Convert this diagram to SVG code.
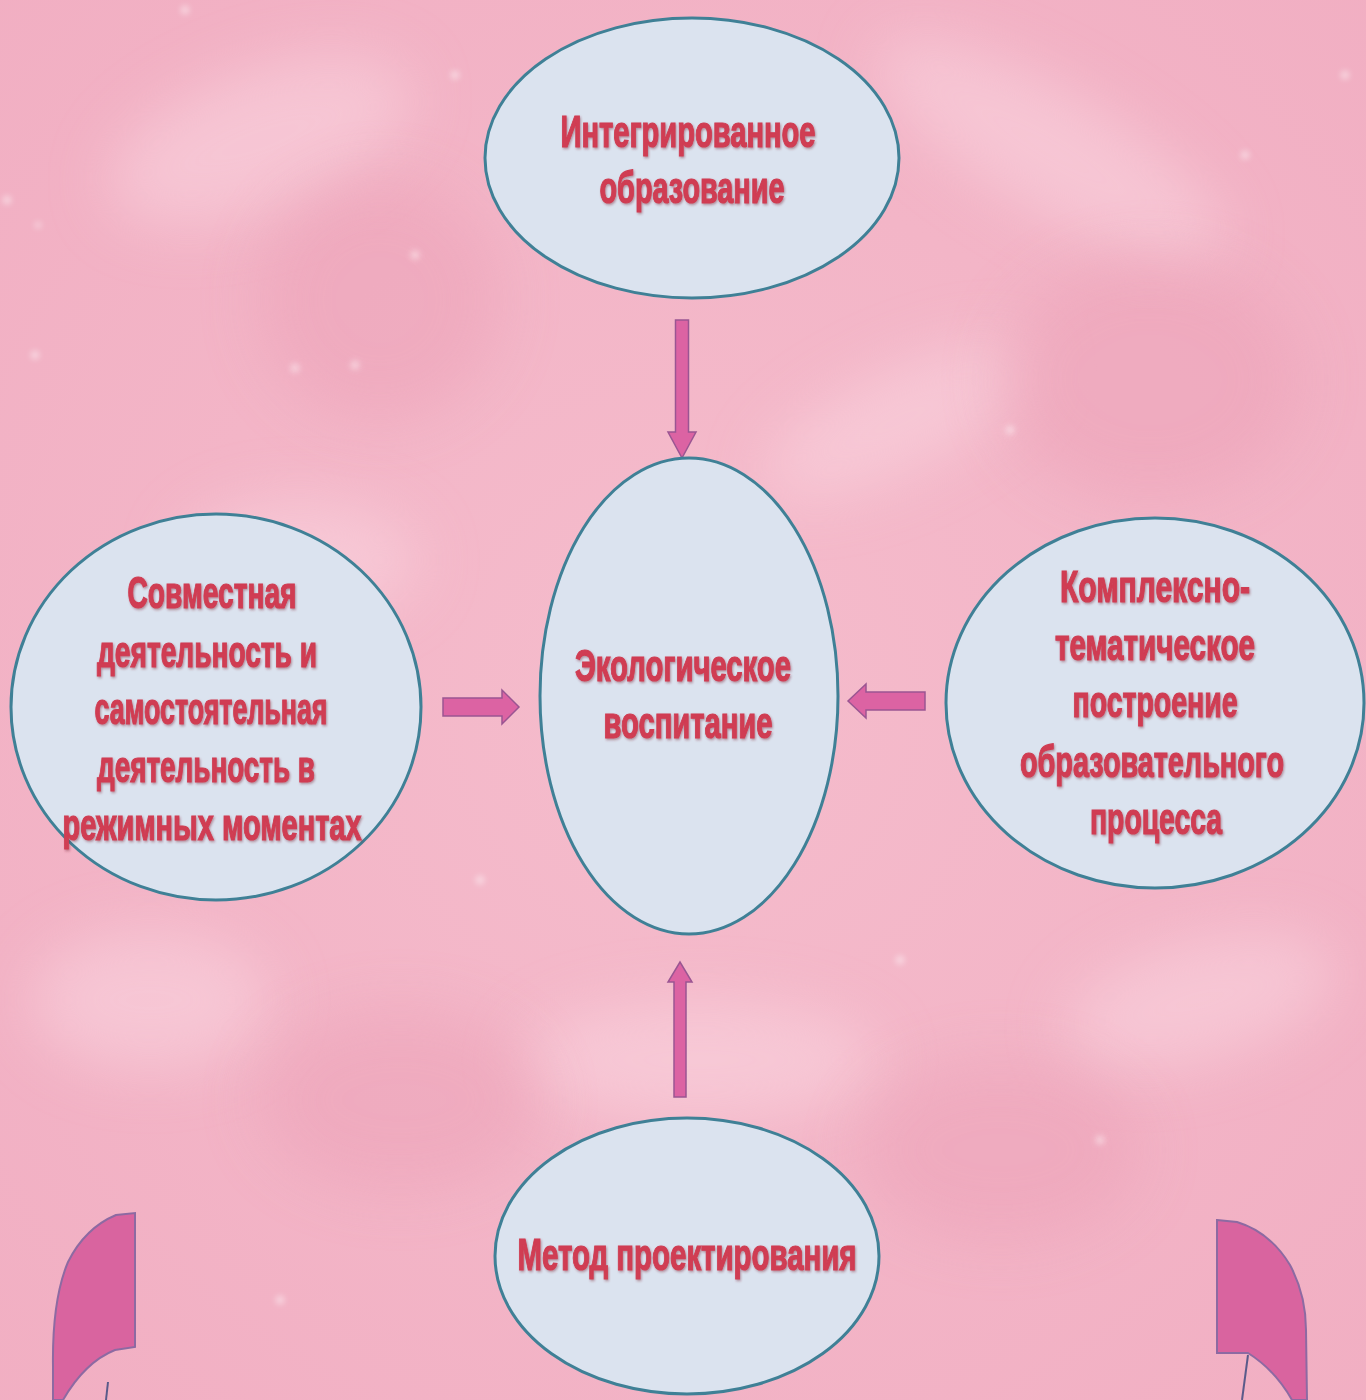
<svg xmlns="http://www.w3.org/2000/svg" width="1366" height="1400" viewBox="0 0 1366 1400">
  <defs>
    <radialGradient id="bg" cx="0.5" cy="0.5" r="0.75">
      <stop offset="0" stop-color="#f5bccc"/>
      <stop offset="1" stop-color="#f1aec2"/>
    </radialGradient>
    <filter id="blur" x="-50%" y="-50%" width="200%" height="200%">
      <feGaussianBlur stdDeviation="30"/>
    </filter>
    <filter id="soft" x="-50%" y="-50%" width="200%" height="200%">
      <feGaussianBlur stdDeviation="3"/>
    </filter>
    <filter id="tshadow" x="-10%" y="-30%" width="120%" height="160%">
      <feDropShadow dx="1" dy="1.5" stdDeviation="1.2" flood-color="#7a2030" flood-opacity="0.45"/>
    </filter>
  </defs>
  <style>
    .node ellipse { fill: #dbe3ef; stroke: #3f8096; stroke-width: 3; }
    .label { font-family: "Liberation Sans", Arial, sans-serif; font-weight: bold; font-size: 44px; fill: #d03c52; stroke: #d03c52; stroke-width: 1.2; text-anchor: middle; filter: url(#tshadow); }
    .arrow { fill: #dc63a3; stroke: #9a5592; stroke-width: 1.5; stroke-linejoin: miter; }
    .corner { fill: #d9649f; stroke: #8d6aa2; stroke-width: 2; }
    .tip { fill: none; stroke: #5a5a8a; stroke-width: 2; }
  </style>

  <!-- background -->
  <rect x="0" y="0" width="1366" height="1400" fill="url(#bg)"/>
  <g filter="url(#blur)" fill="#fbd9e3" opacity="0.5">
    <ellipse cx="260" cy="140" rx="160" ry="70" transform="rotate(-20 260 140)"/>
    <ellipse cx="300" cy="560" rx="120" ry="60"/>
    <ellipse cx="1050" cy="150" rx="200" ry="60" transform="rotate(30 1050 150)"/>
    <ellipse cx="700" cy="1060" rx="180" ry="60"/>
    <ellipse cx="150" cy="1000" rx="120" ry="70"/>
    <ellipse cx="1200" cy="1000" rx="140" ry="60" transform="rotate(-15 1200 1000)"/>
    <ellipse cx="900" cy="420" rx="150" ry="50" transform="rotate(-25 900 420)"/>
  </g>
  <g filter="url(#blur)" fill="#eb9fb5" opacity="0.45">
    <ellipse cx="380" cy="300" rx="120" ry="120"/>
    <ellipse cx="1150" cy="380" rx="150" ry="120"/>
    <ellipse cx="400" cy="1100" rx="140" ry="90"/>
    <ellipse cx="1000" cy="1150" rx="140" ry="90"/>
  </g>
  <g filter="url(#soft)" fill="#ffffff" opacity="0.55">
    <circle cx="185" cy="10" r="4"/>
    <circle cx="455" cy="75" r="4"/>
    <circle cx="415" cy="255" r="4"/>
    <circle cx="7" cy="200" r="4"/>
    <circle cx="38" cy="225" r="3"/>
    <circle cx="35" cy="355" r="4"/>
    <circle cx="295" cy="368" r="4"/>
    <circle cx="355" cy="365" r="4"/>
    <circle cx="1245" cy="155" r="4"/>
    <circle cx="1345" cy="75" r="4"/>
    <circle cx="1010" cy="430" r="4"/>
    <circle cx="480" cy="880" r="4"/>
    <circle cx="1100" cy="1140" r="4"/>
    <circle cx="280" cy="1300" r="4"/>
    <circle cx="900" cy="960" r="4"/>
  </g>

  <!-- connectors -->
  <g id="connectors">
    <path id="arrow-top" class="arrow" d="M 675.5 320 L 688.5 320 L 688.5 432 L 696 432 L 682 458 L 668 432 L 675.5 432 Z"/>
    <path id="arrow-left" class="arrow" d="M 443 698 L 502 698 L 502 690 L 519 707 L 502 724 L 502 716 L 443 716 Z"/>
    <path id="arrow-right" class="arrow" d="M 925 692 L 866 692 L 866 684 L 848 701 L 866 718 L 866 710 L 925 710 Z"/>
    <path id="arrow-bottom" class="arrow" d="M 674 1097 L 686 1097 L 686 982 L 692 982 L 680 962 L 668 982 L 674 982 Z"/>
  </g>

  <!-- nodes -->
  <g id="node-top" class="node">
    <ellipse cx="692" cy="158" rx="207" ry="140"/>
    <text class="label" x="688" y="147" textLength="255" lengthAdjust="spacingAndGlyphs">Интегрированное</text>
    <text class="label" x="692" y="203" textLength="185" lengthAdjust="spacingAndGlyphs">образование</text>
  </g>

  <g id="node-center" class="node">
    <ellipse cx="689" cy="696" rx="149" ry="238"/>
    <text class="label" x="683" y="681" textLength="216" lengthAdjust="spacingAndGlyphs">Экологическое</text>
    <text class="label" x="688" y="738" textLength="169" lengthAdjust="spacingAndGlyphs">воспитание</text>
  </g>

  <g id="node-left" class="node">
    <ellipse cx="216" cy="707" rx="205" ry="193"/>
    <text class="label" x="212" y="608" textLength="169" lengthAdjust="spacingAndGlyphs">Совместная</text>
    <text class="label" x="207" y="667" textLength="220" lengthAdjust="spacingAndGlyphs">деятельность и</text>
    <text class="label" x="211" y="724" textLength="233" lengthAdjust="spacingAndGlyphs">самостоятельная</text>
    <text class="label" x="206" y="782" textLength="218" lengthAdjust="spacingAndGlyphs">деятельность в</text>
    <text class="label" x="212" y="840" textLength="299" lengthAdjust="spacingAndGlyphs">режимных моментах</text>
  </g>

  <g id="node-right" class="node">
    <ellipse cx="1155" cy="703" rx="209" ry="185"/>
    <text class="label" x="1155" y="602" textLength="190" lengthAdjust="spacingAndGlyphs">Комплексно-</text>
    <text class="label" x="1155" y="660" textLength="200" lengthAdjust="spacingAndGlyphs">тематическое</text>
    <text class="label" x="1155" y="717" textLength="165" lengthAdjust="spacingAndGlyphs">построение</text>
    <text class="label" x="1152" y="777" textLength="264" lengthAdjust="spacingAndGlyphs">образовательного</text>
    <text class="label" x="1156" y="834" textLength="132" lengthAdjust="spacingAndGlyphs">процесса</text>
  </g>

  <g id="node-bottom" class="node">
    <ellipse cx="687" cy="1256" rx="192" ry="138"/>
    <text class="label" x="687" y="1270" textLength="339" lengthAdjust="spacingAndGlyphs">Метод проектирования</text>
  </g>

  <!-- corner curved arrow fragments -->
  <g id="corner-left">
    <path class="corner" d="M 135 1213 L 135 1347 L 115 1350 Q 85 1362 63 1400 L 53 1400 L 53 1367 Q 52 1300 68 1262 Q 85 1228 116 1215 Z"/>
    <path class="tip" d="M 108 1382 L 106 1400"/>
  </g>
  <g id="corner-right">
    <path class="corner" d="M 1217 1220 L 1237 1222 Q 1270 1232 1290 1265 Q 1306 1295 1306 1330 L 1307 1400 L 1292 1400 Q 1275 1370 1248 1353 L 1217 1353 Z"/>
    <path class="tip" d="M 1248 1355 L 1242 1400"/>
  </g>
</svg>
